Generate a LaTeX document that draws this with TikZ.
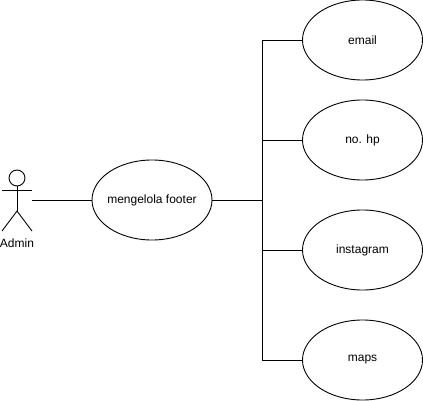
\documentclass[tikz,border=0pt]{standalone}
\usepackage{fontspec}
\setmainfont{Liberation Sans}
\usetikzlibrary{shapes.geometric}
\tikzset{usecase/.style={draw,ellipse,minimum width=120pt,minimum height=80pt,inner xsep=-10pt,inner ysep=0pt,font=\fontsize{12}{12}\selectfont},
  actorline/.style={line width=0.9pt},
  link/.style={line width=0.9pt}}

\begin{document}
\begin{tikzpicture}[x=1pt,y=-1pt,line width=0.9pt]
  \useasboundingbox (0,0) rectangle (423,401);
  % actor
  \node[draw,circle,minimum size=16pt,inner sep=0pt] (head) at (17,178) {};
  \coordinate (hip) at (17,211);
  \coordinate (hand) at (32,200);
  \draw[actorline] (head.south) -- (hip);
  \draw[actorline] (2,190) -- (32,190);
  \draw[actorline] (2,231) -- (hip) -- (32,231);
  \node[font=\fontsize{12}{12}\selectfont] (admin) at (17,243.5) {Admin};
  % use cases
  \node[usecase] (footer) at (152,200) {mengelola footer};
  \node[usecase] (email) at (362.5,40) {email};
  \node[usecase] (hp) at (362.5,140) {no. hp};
  \node[usecase] (instagram) at (362.5,250) {instagram};
  \node[usecase] (maps) at (362.5,360) {maps};
  % trunk
  \coordinate (branch) at (262,200);
  \draw[link] (hand) -- (footer.west);
  \draw[link] (footer.east) -- (branch);
  \draw[link] (email.west) -| (branch);
  \draw[link] (hp.west) -| (branch);
  \draw[link] (instagram.west) -| (branch);
  \draw[link] (maps.west) -| (branch);
\end{tikzpicture}
\end{document}
